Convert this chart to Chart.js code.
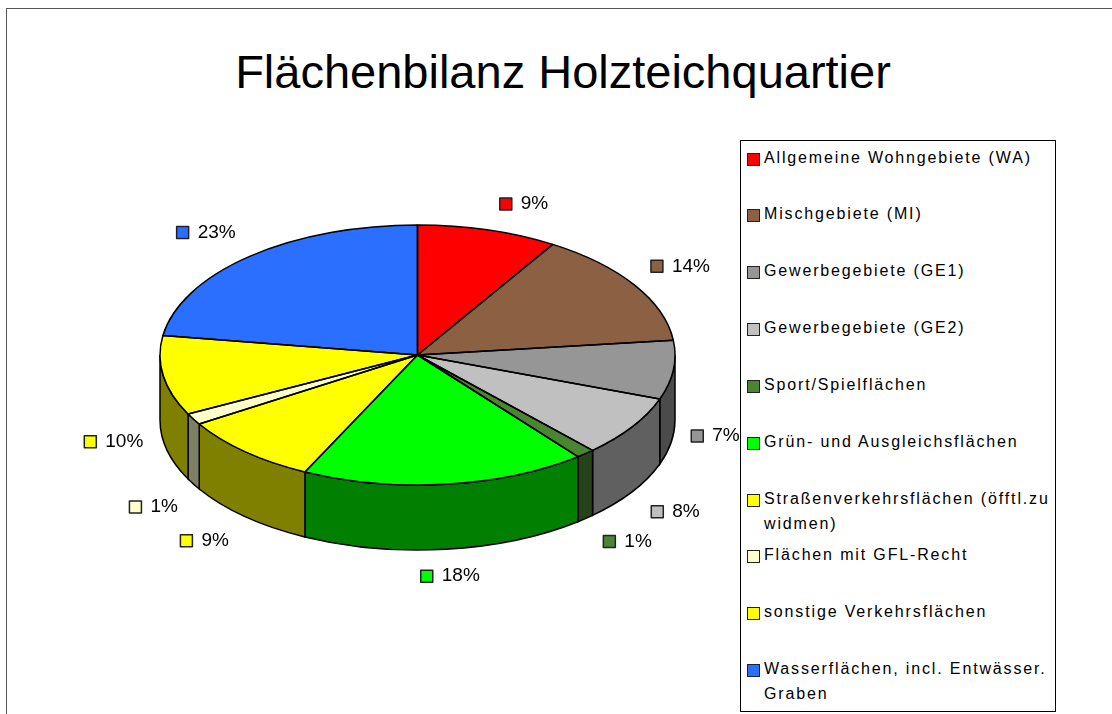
<!DOCTYPE html>
<html lang="de">
<head>
<meta charset="utf-8">
<title>Flächenbilanz Holzteichquartier</title>
<script src="https://cdn.jsdelivr.net/npm/chart.js@4"></script>
<style>
    html, body { margin: 0; padding: 0; background: #fff; overflow: hidden; }
    body { position: relative; width: 1112px; height: 714px; font-family: "Liberation Sans", sans-serif; color: #000; }
    #frame { position: absolute; left: 6px; top: 8px; right: 0; bottom: 0; border-top: 1px solid #555; border-left: 1px solid #555; }
    #chartTitle { position: absolute; left: 0; top: 45px; width: 1126px; text-align: center; font-size: 47px; line-height: 54px; font-weight: normal; margin: 0; }
    #myChart { position: absolute; left: 0; top: 0; }
    #legendBox { position: absolute; left: 740px; top: 140px; width: 314px; height: 570px; border: 1px solid #000; background: #fff; }
    .row { position: absolute; left: 23px; width: 288px; font-size: 16px; line-height: 25px; letter-spacing: 1.85px; }
    .swatch { position: absolute; left: -17px; top: 8px; width: 11px; height: 11px; border: 1.5px solid #222; }
</style>
</head>
<body>
<div id="frame"></div>
<h1 id="chartTitle">Flächenbilanz Holzteichquartier</h1>
<canvas id="myChart" width="1112" height="714"></canvas>
<div id="legendBox"></div>
<script>
// Chart data
var categories = [
    'Allgemeine Wohngebiete (WA)',
    'Mischgebiete (MI)',
    'Gewerbegebiete (GE1)',
    'Gewerbegebiete (GE2)',
    'Sport/Spielflächen',
    'Grün- und Ausgleichsflächen',
    'Straßenverkehrsflächen (öfftl.zu widmen)',
    'Flächen mit GFL-Recht',
    'sonstige Verkehrsflächen',
    'Wasserflächen, incl. Entwässer. Graben'
];
var shares = [8.8, 14.4, 7.3, 7.6, 1.2, 17.9, 8.9, 1.4, 9.9, 22.6];
var sliceColors = ['#ff0000', '#8c6042', '#969696', '#c0c0c0', '#4a8533', '#00ff00', '#ffff00', '#ffffcc', '#ffff00', '#2a6fff'];

// Where the flat pie ends up on the page
var pieX = 417.5;
var pieY = 355;
var radiusX = 257.5;
var radiusY = 130;
var pieDepth = 65;

// Label swatch offset from the rim point at the middle of each slice
var labelNudge = [[18, -26], [22, -19], [24, 1], [25, 20], [24, 23], [-19, 27], [-59, 24], [-58, 23], [-73, 1], [-67, -24]];

// Half brightness colour for the side wall
function darken(hex) {
    var r = parseInt(hex.substr(1, 2), 16) >> 1;
    var g = parseInt(hex.substr(3, 2), 16) >> 1;
    var b = parseInt(hex.substr(5, 2), 16) >> 1;
    return 'rgb(' + r + ',' + g + ',' + b + ')';
}

// Function to draw the side walls of the front half
function drawWalls(ctx, arcs) {
    arcs.forEach(function(arc, i) {
        var from = Math.max(arc.startAngle, 0);
        var to = Math.min(arc.endAngle, Math.PI);
        if (to <= from) {
            return;
        }
        ctx.beginPath();
        ctx.ellipse(pieX, pieY, radiusX, radiusY, 0, from, to);
        ctx.ellipse(pieX, pieY + pieDepth, radiusX, radiusY, 0, to, from, true);
        ctx.closePath();
        ctx.fillStyle = darken(sliceColors[i]);
        ctx.fill();
        ctx.lineWidth = 1.5;
        ctx.strokeStyle = '#000';
        ctx.stroke();
    });
}

// Function to outline the top face with an even line width
function drawOutlines(ctx, arcs) {
    arcs.forEach(function(arc) {
        ctx.beginPath();
        ctx.moveTo(pieX, pieY);
        ctx.ellipse(pieX, pieY, radiusX, radiusY, 0, arc.startAngle, arc.endAngle);
        ctx.closePath();
        ctx.lineWidth = 1.5;
        ctx.lineJoin = 'round';
        ctx.strokeStyle = '#000';
        ctx.stroke();
    });
}

// Function to draw the percent labels with their small squares
function drawLabels(chart, arcs) {
    var ctx = chart.ctx;
    var total = shares.reduce(function(a, b) { return a + b; }, 0);
    ctx.font = '19px "Liberation Sans"';
    ctx.textBaseline = 'middle';
    ctx.textAlign = 'left';
    arcs.forEach(function(arc, i) {
        var mid = (arc.startAngle + arc.endAngle) / 2;
        var x = pieX + radiusX * Math.cos(mid) + labelNudge[i][0];
        var y = pieY + radiusY * Math.sin(mid) + labelNudge[i][1];
        if (Math.sin(mid) > 0) {
            y += pieDepth;
        }
        ctx.fillStyle = sliceColors[i];
        ctx.fillRect(x - 6, y - 6, 12, 12);
        ctx.lineWidth = 1.5;
        ctx.strokeStyle = '#222';
        ctx.strokeRect(x - 6, y - 6, 12, 12);
        ctx.fillStyle = '#000';
        ctx.fillText(Math.round(shares[i] / total * 100) + '%', x + 15, y);
    });
}

// Squash the Chart.js pie into an ellipse and build the 3D look around it
var tiltPlugin = {
    id: 'tilt',
    beforeDatasetsDraw: function(chart) {
        var ctx = chart.ctx;
        var arcs = chart.getDatasetMeta(0).data;
        drawWalls(ctx, arcs);
        ctx.save();
        ctx.translate(pieX, pieY);
        ctx.scale(radiusX / arcs[0].outerRadius, radiusY / arcs[0].outerRadius);
        ctx.translate(-arcs[0].x, -arcs[0].y);
    },
    afterDatasetsDraw: function(chart) {
        var arcs = chart.getDatasetMeta(0).data;
        chart.ctx.restore();
        drawOutlines(chart.ctx, arcs);
        drawLabels(chart, arcs);
    }
};

// Create the chart
var myChart = new Chart(document.getElementById('myChart').getContext('2d'), {
    type: 'pie',
    data: {
        labels: categories,
        datasets: [{
            data: shares,
            backgroundColor: sliceColors,
            borderWidth: 0
        }]
    },
    options: {
        responsive: false,
        animation: false,
        layout: { padding: { left: 160, right: 437, top: 40, bottom: 40 } },
        plugins: {
            legend: { display: false },
            title: { display: false },
            tooltip: { enabled: false }
        }
    },
    plugins: [tiltPlugin]
});

// Legend box built from the same arrays
var legendBox = document.getElementById('legendBox');
categories.forEach(function(name, i) {
    var row = document.createElement('div');
    row.className = 'row';
    row.style.top = (3.5 + i * 56.85) + 'px';
    row.textContent = name;
    var swatch = document.createElement('span');
    swatch.className = 'swatch';
    swatch.style.background = sliceColors[i];
    row.appendChild(swatch);
    legendBox.appendChild(row);
});
</script>
</body>
</html>
